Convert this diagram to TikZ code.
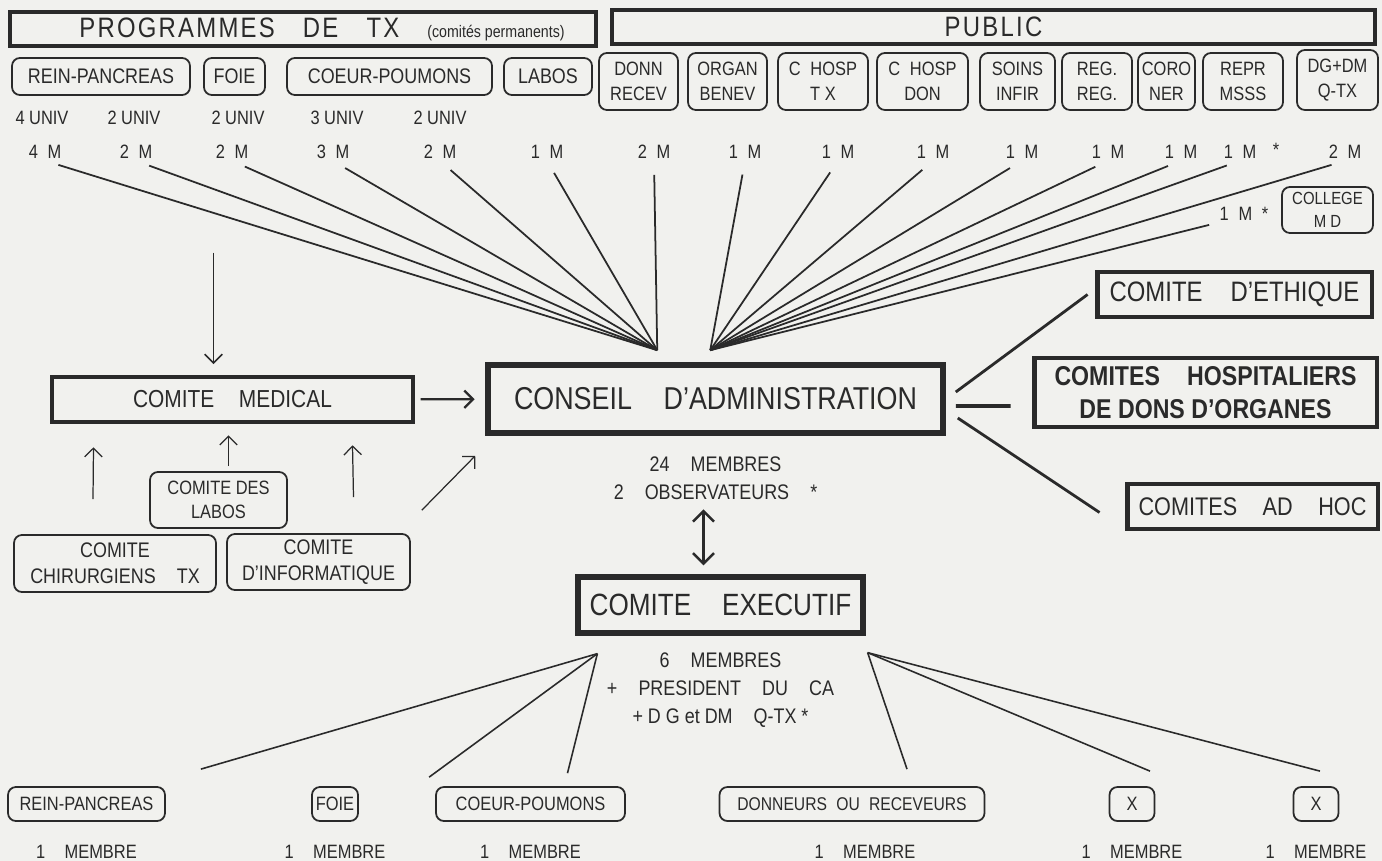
\documentclass[tikz,border=0pt]{standalone}
\usepackage{fontspec}
\setmainfont{Liberation Sans}[FakeStretch=0.85]
\usepackage{tikz}
\usetikzlibrary{shapes,arrows.meta,positioning,calc}
\definecolor{Ink}{RGB}{42,42,42}
\definecolor{Paper}{RGB}{241,241,238}
\newcommand{\fsz}[2]{\fontsize{#1}{#2}\selectfont}

\begin{document}
\begin{tikzpicture}[
  x=0.02cm, y=-0.02cm, color=Ink,
  hdr/.style={rectangle, draw, line width=2pt, inner sep=0pt, minimum height=0.68cm, font=\fsz{16}{19}},
  bigbox/.style={rectangle, draw, line width=3pt, inner sep=0pt, align=center},
  rbox/.style={rectangle, draw, rounded corners=4.5pt, line width=1pt, inner sep=0pt, align=center},
  pbox/.style={rbox, minimum height=0.74cm, font=\fsz{12}{15}},
  qbox/.style={rbox, minimum height=1.14cm, font=\fsz{11}{14}},
  bbox/.style={rbox, minimum height=0.68cm, font=\fsz{11}{14}},
  lbl/.style={inner sep=1pt, align=center, font=\fsz{11}{13}},
  fan/.style={line width=1pt, shorten <=8pt},
  link/.style={line width=1.6pt},
  thinlink/.style={line width=0.9pt},
  arrow/.style={-{Straight Barb[length=5pt,width=10pt]}, line width=0.7pt},
  dblarrow/.style={{Straight Barb[length=6pt,width=12pt]}-{Straight Barb[length=6pt,width=12pt]}, line width=1.4pt}
]
  % paper
  \fill[Paper] (0,0) rectangle (1382,861);
  \useasboundingbox (0,0) rectangle (1382,861);

  % programmes de tx / public
  \node[hdr, minimum width=11.72cm] (prog) at (303,29) {\hspace*{0.76cm}{\addfontfeatures{LetterSpace=8}PROGRAMMES\quad DE\quad TX}\quad{\fsz{9.5}{11}(comités permanents)}};
  \node[hdr, minimum width=15.26cm] (pub) at (993.5,27) {{\addfontfeatures{LetterSpace=8}PUBLIC}};

  \node[pbox, minimum width=3.56cm] (rpT) at (101,76.5) {REIN-PANCREAS};
  \node[pbox, minimum width=1.22cm] (foT) at (234.5,76.5) {FOIE};
  \node[pbox, minimum width=4.10cm] (cpT) at (389.5,76.5) {COEUR-POUMONS};
  \node[pbox, minimum width=1.76cm] (laT) at (548,76.5) {LABOS};
  \node[qbox, minimum width=1.58cm] (dr) at (638.5,81.5) {DONN\\RECEV};
  \node[qbox, minimum width=1.58cm] (ob) at (727.5,81.5) {ORGAN\\BENEV};
  \node[qbox, minimum width=1.80cm] (ht) at (823,81.5) {C\enspace HOSP\\T X};
  \node[qbox, minimum width=1.82cm] (hd) at (922.5,81.5) {C\enspace HOSP\\DON};
  \node[qbox, minimum width=1.50cm] (si) at (1017.5,81.5) {SOINS\\INFIR};
  \node[qbox, minimum width=1.40cm] (rr) at (1097,81.5) {REG.\\REG.};
  \node[qbox, minimum width=1.14cm] (co) at (1166.5,81.5) {CORO\\NER};
  \node[qbox, minimum width=1.60cm] (ms) at (1243,81.5) {REPR\\MSSS};
  \node[qbox, minimum width=1.62cm, minimum height=1.2cm] (dg) at (1337.5,80) {DG+DM\\Q-TX};

  \node[lbl] (u1) at (42,118) {4 UNIV};
  \node[lbl] (u2) at (134,118) {2 UNIV};
  \node[lbl] (u3) at (238,118) {2 UNIV};
  \node[lbl] (u4) at (337,118) {3 UNIV};
  \node[lbl] (u5) at (440,118) {2 UNIV};

  \node[lbl] (m1) at (45,152) {4\enspace M};
  \node[lbl] (m2) at (136,152) {2\enspace M};
  \node[lbl] (m3) at (232,152) {2\enspace M};
  \node[lbl] (m4) at (333,152) {3\enspace M};
  \node[lbl] (m5) at (440,152) {2\enspace M};
  \node[lbl] (m6) at (547,152) {1\enspace M};
  \node[lbl] (m7) at (654,152) {2\enspace M};
  \node[lbl] (m8) at (745,152) {1\enspace M};
  \node[lbl] (m9) at (838,152) {1\enspace M};
  \node[lbl] (m10) at (933,152) {1\enspace M};
  \node[lbl] (m11) at (1022,152) {1\enspace M};
  \node[lbl] (m12) at (1108,152) {1\enspace M};
  \node[lbl] (m13) at (1181,152) {1\enspace M};
  \node[lbl] (m14) at (1240,152) {1\enspace M};
  \node[lbl] (star) at (1276,150) {*};
  \node[lbl] (m15) at (1345,152) {2\enspace M};

  \node[rbox, minimum width=1.82cm, minimum height=0.92cm, font=\fsz{10}{13}] (coll) at (1327.5,210) {COLLEGE\\M D};
  \node[lbl] (cm) at (1244,214) {1\enspace M\enspace *};

  % conseil
  \node[bigbox, line width=3.2pt, minimum width=9.10cm, minimum height=1.36cm, font=\fsz{18}{22}] (ca) at (715.5,399) {CONSEIL\quad D'ADMINISTRATION};
  \node[lbl, font=\fsz{12}{16}, below=0.38cm of ca] (camem) {24\quad MEMBRES\\2\quad OBSERVATEURS\quad *};
  \coordinate (caL) at ($(ca.north west)+(172,-12)$);
  \coordinate (caR) at ($(ca.north west)+(225,-12)$);

  \foreach \i in {1,...,7} \draw[fan] (m\i.south) -- (caL);
  \foreach \i in {8,...,15} \draw[fan] (m\i.south) -- (caR);
  \draw[fan, shorten <=5pt] (cm.south west) -- (caR);

  % comite medical
  \node[bigbox, line width=2.6pt, minimum width=7.22cm, minimum height=0.90cm, font=\fsz{14}{17}] (med) at (232.5,399.5) {COMITE\quad MEDICAL};
  \node[rbox, minimum width=2.74cm, minimum height=1.12cm, font=\fsz{11}{14}] (labos) at (218.5,500) {COMITE DES\\LABOS};
  \node[rbox, minimum width=4.04cm, minimum height=1.14cm, font=\fsz{12}{15}] (chir) at (115,563.5) {COMITE\\CHIRURGIENS\quad TX};
  \node[rbox, minimum width=3.66cm, minimum height=1.12cm, font=\fsz{12}{15}] (info) at (318.5,562) {COMITE\\D'INFORMATIQUE};

  \draw[arrow, line width=0.9pt, shorten >=6pt] ($(med.north)+(-19,-122)$) -- ($(med.north)+(-19,0)$);
  \draw[arrow, line width=1.3pt, shorten <=3pt, shorten >=6pt] (med) -- (ca);
  \draw[arrow] ($(chir.north)+(-22,-35)$) -- ($(med.south)+(-139,23)$);
  \draw[arrow] ($(labos.north)+(10,-5)$) -- ($(med.south)+(-4,11)$);
  \draw[arrow] ($(info.north)+(35,-36)$) -- ($(med.south)+(120,21)$);
  \draw[arrow] ($(info.north east)+(11,-23)$) -- ($(ca.south west)+(-10,20)$);

  % comites a droite
  \node[bigbox, line width=2.8pt, minimum width=5.50cm, minimum height=0.90cm, font=\fsz{16}{19}] (eth) at (1234.5,294.5) {COMITE\quad D'ETHIQUE};
  \node[bigbox, line width=2.8pt, minimum width=6.86cm, minimum height=1.38cm, font=\bfseries\fsz{15.5}{19}] (hosp) at (1205.5,392.5) {COMITES\quad HOSPITALIERS\\DE DONS D'ORGANES};
  \node[bigbox, line width=2.8pt, minimum width=5.02cm, minimum height=0.90cm, font=\fsz{14.5}{17}] (adhoc) at (1252.5,506.5) {COMITES\quad AD\quad HOC};

  \draw[link] ($(ca.east)+(10,-7)$) -- ($(eth.west)+(-7,0)$);
  \draw[link, line width=2.2pt] ($(ca.east)+(10,7)$) -- ($(hosp.west)+(-21,13.5)$);
  \draw[link] ($(ca.east)+(12,19)$) -- ($(adhoc.west)+(-25,6)$);

  % comite executif
  \node[bigbox, minimum width=5.70cm, minimum height=1.12cm, font=\fsz{17.5}{21}] (ce) at (720.5,605) {COMITE\quad EXECUTIF};
  \node[lbl, font=\fsz{12}{16}, below=0.3cm of ce] (cemem) {6\quad MEMBRES\\+\quad PRESIDENT\quad DU\quad CA\\+ D G et DM\quad Q-TX *};
  \draw[dblarrow] ($(ce.north)+(-17,-65)$) -- ($(ce.north)+(-17,-9)$);

  \node[bbox, minimum width=3.14cm] (rpB) at (86.5,804) {REIN-PANCREAS};
  \node[bbox, minimum width=0.92cm] (foB) at (335,804) {FOIE};
  \node[bbox, minimum width=3.78cm] (cpB) at (530.5,804) {COEUR-POUMONS};
  \node[bbox, minimum width=5.30cm, font=\fsz{10.5}{13}] (drB) at (852,804) {DONNEURS\enspace OU\enspace RECEVEURS};
  \node[bbox, minimum width=0.90cm] (xa) at (1132,804) {X};
  \node[bbox, minimum width=0.90cm] (xb) at (1316,804) {X};

  \foreach \b in {rpB,foB,cpB,xa,xb}
    \node[lbl, below=0.42cm of \b] (mb\b) {1\quad MEMBRE};
  \node[lbl, below=0.42cm of drB, xshift=0.26cm] (mbdrB) {1\quad MEMBRE};

  \coordinate (ceL) at ($(ce.south west)+(22,18)$);
  \coordinate (ceR) at ($(ce.south east)+(2,17)$);
  \draw[thinlink] (ceL) -- ($(rpB.north east)+(35,-17)$);
  \draw[thinlink] (ceL) -- ($(cpB.north west)+(-6,-9)$);
  \draw[thinlink] (ceL) -- ($(cpB.north)+(37,-13)$);
  \draw[thinlink] (ceR) -- ($(drB.north)+(55,-17)$);
  \draw[thinlink] (ceR) -- ($(xa.north)+(18,-15)$);
  \draw[thinlink] (ceR) -- ($(xb.north)+(4,-15)$);
\end{tikzpicture}
\end{document}
